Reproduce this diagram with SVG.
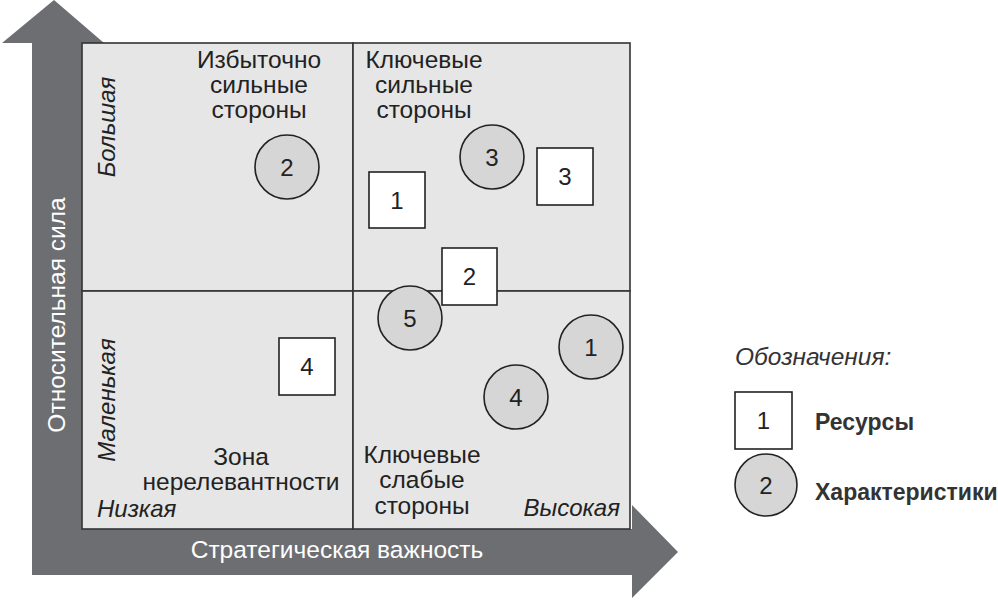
<svg xmlns="http://www.w3.org/2000/svg" width="998" height="601" viewBox="0 0 998 601">
<style>
text{font-family:"Liberation Sans",Arial,sans-serif;fill:#222;}
.lbl{font-size:24.5px;text-anchor:middle;}
.it{font-style:italic;font-size:24px;}
.num{font-size:24px;text-anchor:middle;}
.ax{font-size:24.5px;fill:#fff;text-anchor:middle;}
.sq{fill:#fff;stroke:#222;stroke-width:1.6;}
.ci{fill:#d6d6d6;stroke:#222;stroke-width:1.6;}
.quad{fill:#e6e6e6;stroke:#333;stroke-width:1.6;}
.leg{font-size:23px;font-weight:bold;fill:#333;}
</style>
<rect width="998" height="601" fill="#fff"/>
<g id="axes">
<path d="M54,0 L104,43 L82,43 L82,529 L632,529 L632,505 L678,552 L632,598 L632,575 L32,575 L32,43 L2,43 Z" fill="#6d6e71"/>
<text class="ax" transform="translate(65,315) rotate(-90)">Относительная сила</text>
<text class="ax" x="337" y="558">Стратегическая важность</text>
</g>
<g id="quadrants">
<rect class="quad" x="82" y="43" width="271" height="248"/>
<rect class="quad" x="353" y="43" width="277" height="248"/>
<rect class="quad" x="82" y="291" width="271" height="238"/>
<rect class="quad" x="353" y="291" width="277" height="238"/>
</g>
<g id="labels">
<text class="lbl" x="259" y="68">Избыточно</text>
<text class="lbl" x="259" y="93">сильные</text>
<text class="lbl" x="259" y="118">стороны</text>
<text class="lbl" x="424" y="68">Ключевые</text>
<text class="lbl" x="424" y="93">сильные</text>
<text class="lbl" x="424" y="118">стороны</text>
<text class="lbl" x="241" y="465">Зона</text>
<text class="lbl" x="241" y="490">нерелевантности</text>
<text class="lbl" x="422" y="463">Ключевые</text>
<text class="lbl" x="422" y="488">слабые</text>
<text class="lbl" x="422" y="514">стороны</text>
<text class="it" x="97" y="517">Низкая</text>
<text class="it" x="620" y="516" text-anchor="end">Высокая</text>
<text class="it" transform="translate(115,127) rotate(-90)" text-anchor="middle">Большая</text>
<text class="it" transform="translate(115,400) rotate(-90)" text-anchor="middle">Маленькая</text>
</g>
<g id="resource-1"><rect class="sq" x="369" y="172" width="56" height="56"/><text class="num" x="397" y="208.5">1</text></g>
<g id="resource-2"><rect class="sq" x="442" y="248" width="55" height="57"/><text class="num" x="469.5" y="285">2</text></g>
<g id="resource-3"><rect class="sq" x="537" y="148" width="56" height="57"/><text class="num" x="565" y="185">3</text></g>
<g id="resource-4"><rect class="sq" x="279" y="338" width="56" height="57"/><text class="num" x="307" y="375">4</text></g>
<g id="char-1"><circle class="ci" cx="591" cy="347" r="32"/><text class="num" x="591" y="355.5">1</text></g>
<g id="char-2"><circle class="ci" cx="287" cy="167" r="32"/><text class="num" x="287" y="175.5">2</text></g>
<g id="char-3"><circle class="ci" cx="492" cy="157" r="32"/><text class="num" x="492" y="165.5">3</text></g>
<g id="char-4"><circle class="ci" cx="516" cy="397" r="32"/><text class="num" x="516" y="405.5">4</text></g>
<g id="char-5"><circle class="ci" cx="410" cy="318" r="32"/><text class="num" x="410" y="326.5">5</text></g>
<g id="legend">
<text class="it" x="735" y="365" style="font-size:24.5px;fill:#333">Обозначения:</text>
<rect class="sq" x="735" y="392" width="57" height="57"/><text class="num" x="763.5" y="429">1</text>
<text class="leg" x="815" y="430">Ресурсы</text>
<circle class="ci" cx="766" cy="485" r="31"/><text class="num" x="766" y="493.5">2</text>
<text class="leg" x="815" y="500">Характеристики</text>
</g>
<g id="connectors"></g>
</svg>
